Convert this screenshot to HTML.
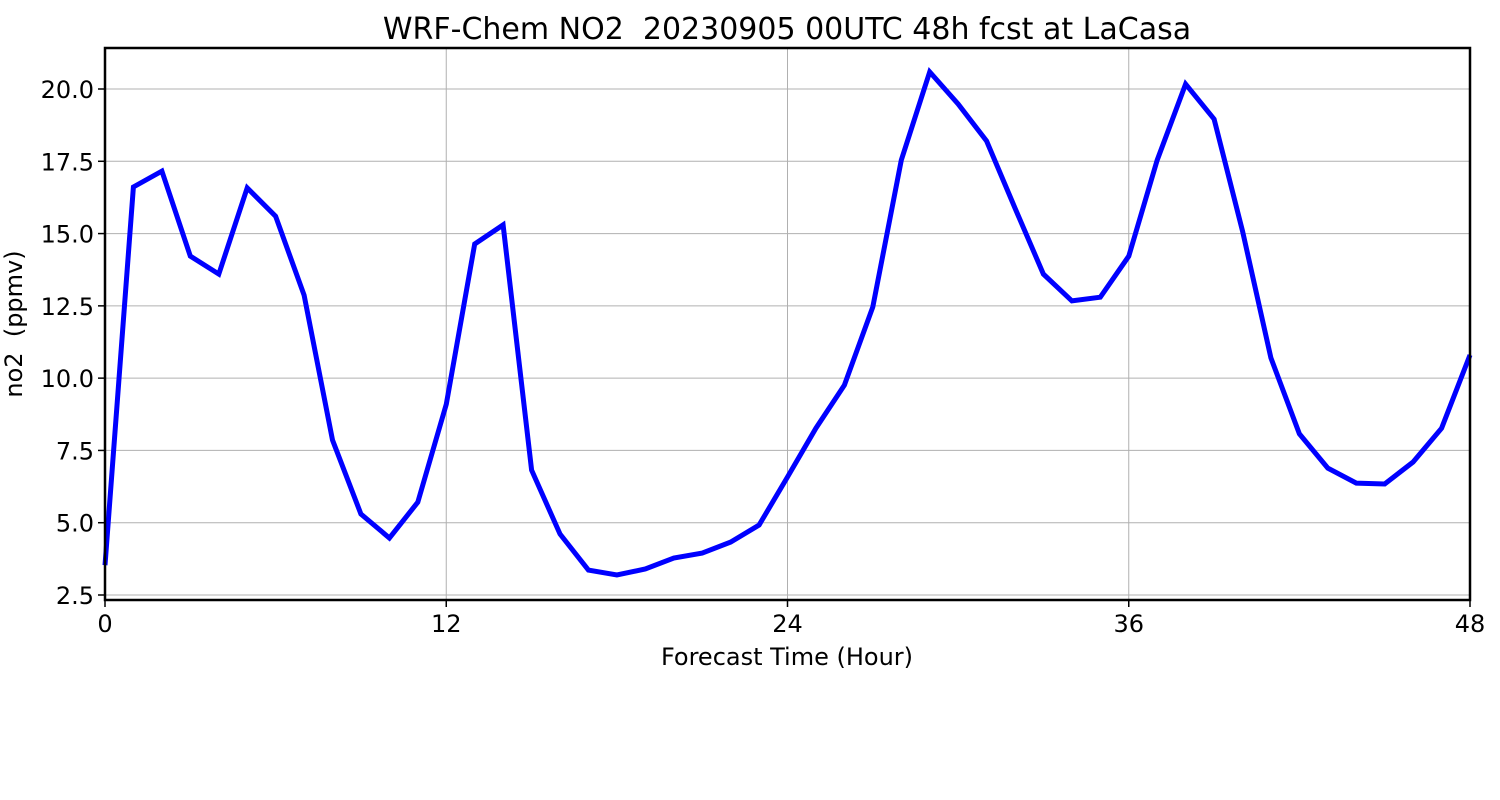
<!DOCTYPE html>
<html><head><meta charset="utf-8"><style>
html,body{margin:0;padding:0;background:#fff;}
svg{display:block;font-family:"DejaVu Sans","Liberation Sans",sans-serif;}
text{white-space:pre;}
</style></head><body>
<svg id="chart" width="1500" height="800" viewBox="0 0 1500 800" xmlns="http://www.w3.org/2000/svg" xml:space="preserve">
<rect width="1500" height="800" fill="#fff"/>
<text x="787" y="39" text-anchor="middle" font-size="30">WRF-Chem NO2  20230905 00UTC 48h fcst at LaCasa</text>
<g id="grid"></g>
<g id="ticks"></g>
<polyline id="line" fill="none" stroke="#0000ff" stroke-width="5" stroke-linejoin="miter"/>
<rect x="105" y="48" width="1365" height="552" fill="none" stroke="#000" stroke-width="2.5"/>
<text x="787" y="665" text-anchor="middle" font-size="24">Forecast Time (Hour)</text>
<text transform="translate(22,324) rotate(-90)" text-anchor="middle" font-size="24">no2  (ppmv)</text>
</svg>
<script>
const hours = [0,1,2,3,4,5,6,7,8,9,10,11,12,13,14,15,16,17,18,19,20,21,22,23,24,25,26,27,28,29,30,31,32,33,34,35,36,37,38,39,40,41,42,43,44,45,46,47,48];
const no2 = [3.53,16.61,17.16,14.22,13.6,16.58,15.6,12.87,7.86,5.3,4.47,5.71,9.1,14.64,15.3,6.82,4.61,3.36,3.19,3.4,3.78,3.95,4.33,4.92,6.58,8.27,9.76,12.46,17.54,20.59,19.48,18.2,15.88,13.6,12.67,12.8,14.22,17.54,20.17,18.96,15.09,10.7,8.07,6.89,6.37,6.34,7.1,8.27,10.8];
const xTicks = [0,12,24,36,48];
const yTicks = [2.5,5.0,7.5,10.0,12.5,15.0,17.5,20.0];
const yTickLabels = ["2.5","5.0","7.5","10.0","12.5","15.0","17.5","20.0"];
const X0=105,X1=1470,Y0=600,Y1=48;
const xMin=0,xMax=48,yMin=2.327,yMax=21.418;
function sx(v){return X0+(v-xMin)/(xMax-xMin)*(X1-X0);}
function sy(v){return Y0-(v-yMin)/(yMax-yMin)*(Y0-Y1);}
const NS="http://www.w3.org/2000/svg";
const grid=document.getElementById('grid'), ticks=document.getElementById('ticks');
function mk(tag,attrs,parent){const e=document.createElementNS(NS,tag);for(const k in attrs)e.setAttribute(k,attrs[k]);parent.appendChild(e);return e;}
xTicks.forEach(t=>{
  const x=sx(t);
  const g=mk('line',{x1:x,x2:x,y1:Y1,y2:Y0,stroke:'#b0b0b0','stroke-width':1},grid);
  
  
  const tk=mk('line',{x1:x,x2:x,y1:Y0,y2:Y0+7,stroke:'#000','stroke-width':1.5},ticks);
  
  
  const tx=mk('text',{x:x,y:Y0+32,'text-anchor':'middle','font-size':24},ticks);
  tx.textContent=t;
  
  
});
yTicks.forEach((t,i)=>{
  const y=sy(t);
  const g=mk('line',{x1:X0,x2:X1,y1:y,y2:y,stroke:'#b0b0b0','stroke-width':1},grid);
  
  
  const tk=mk('line',{x1:X0-7,x2:X0,y1:y,y2:y,stroke:'#000','stroke-width':1.5},ticks);
  
  
  const tx=mk('text',{x:X0-11,y:y+9,'text-anchor':'end','font-size':24},ticks);
  tx.textContent=yTickLabels[i];
  
  
});
document.getElementById('line').setAttribute('points',hours.map((h,i)=>sx(h).toFixed(1)+','+sy(no2[i]).toFixed(1)).join(' '));
</script>
</body></html>
